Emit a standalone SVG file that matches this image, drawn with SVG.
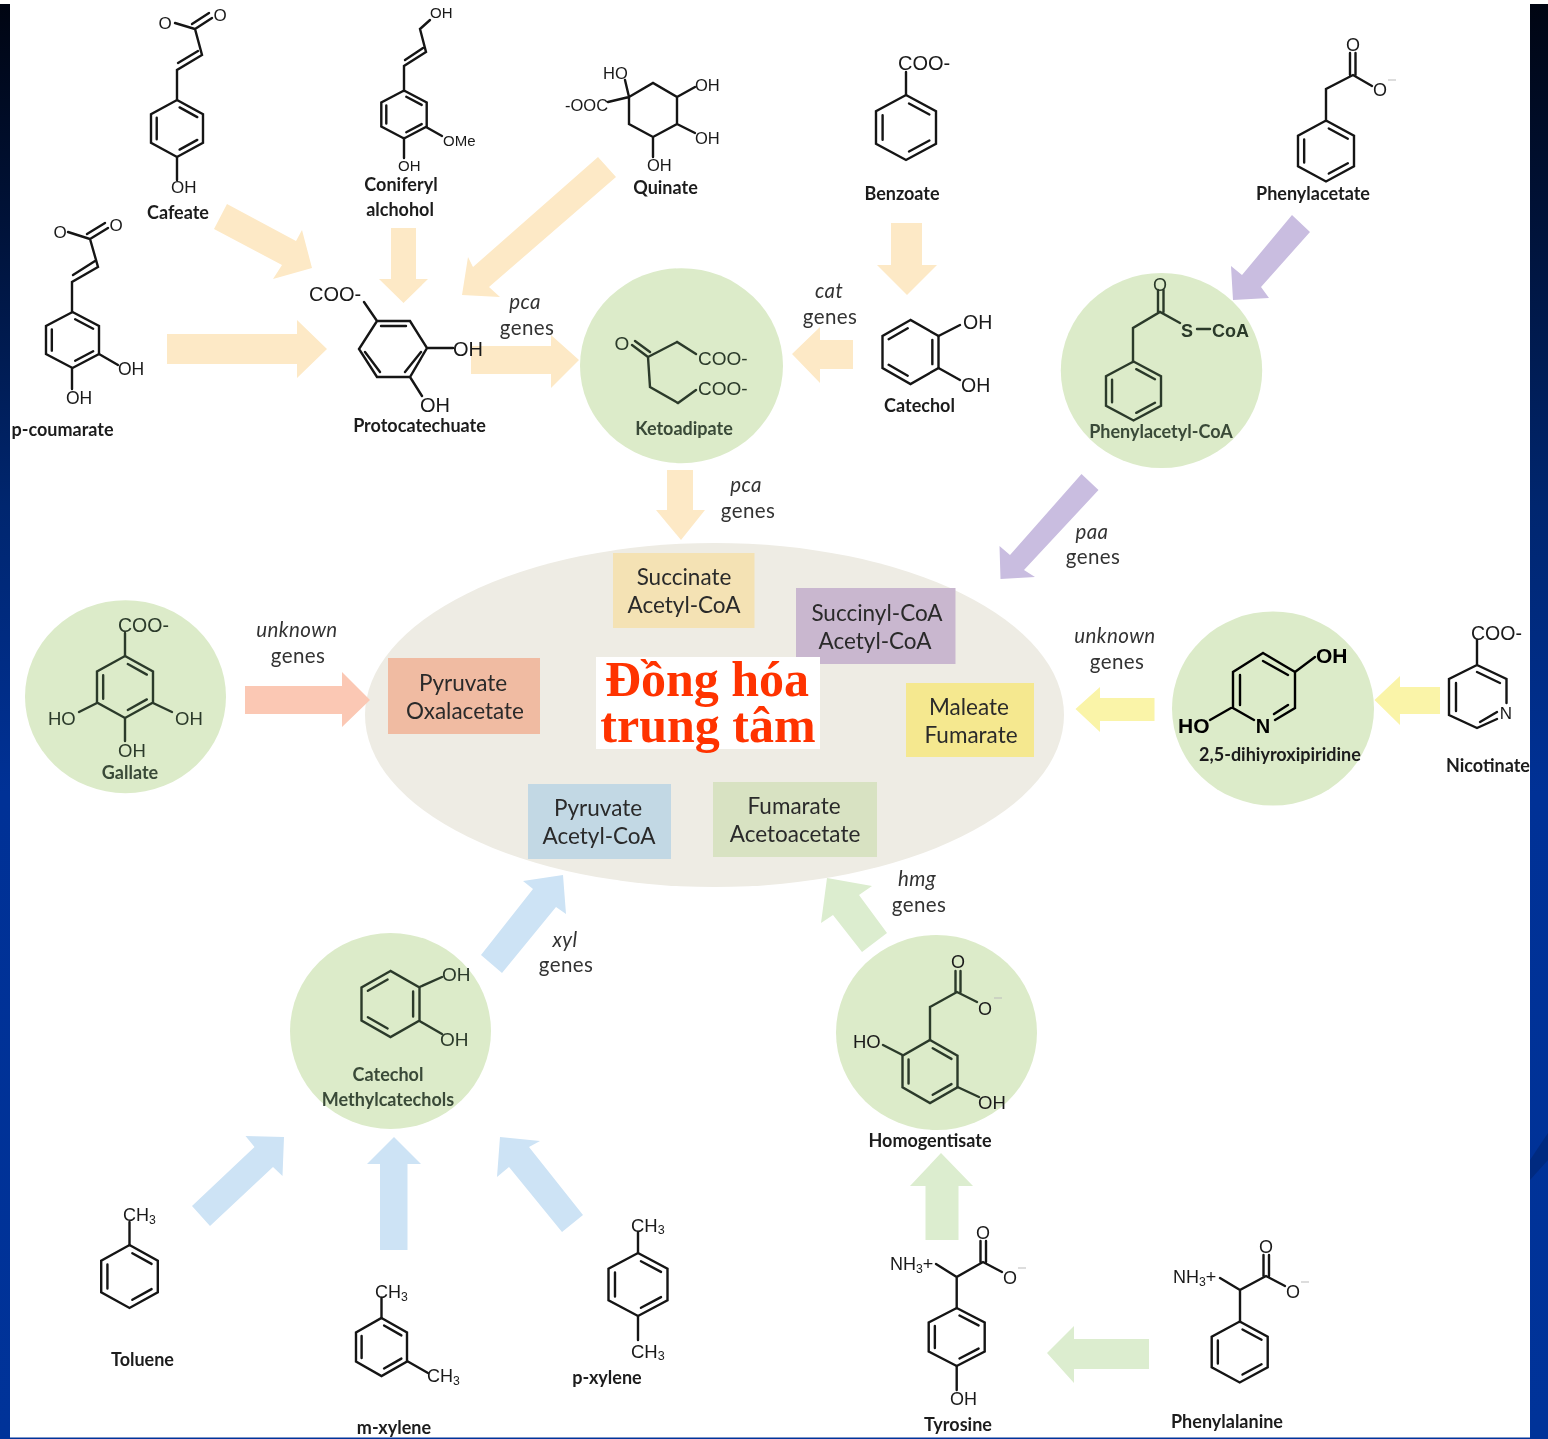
<svg xmlns="http://www.w3.org/2000/svg" width="1548" height="1439" viewBox="0 0 1548 1439">
<style>
.b{fill:none;stroke:#151515;stroke-width:2.400;stroke-linecap:round;stroke-linejoin:miter}
.dk .b{stroke:#2b3a2a}
text{dominant-baseline:central}
.c{font-family:"Liberation Sans",Arial,sans-serif;fill:#1a1a1a}
.dk .c{fill:#2b3a2a}
.n{font-family:Lato,"Open Sans",sans-serif;font-weight:700;font-size:18px;text-anchor:middle;fill:#1c1c1c;transform:translateY(-1.5px)}
.dk .n{fill:#3a4a38}
.l{font-family:Lato,"Open Sans",sans-serif;font-size:20.500px;text-anchor:middle;fill:#333;letter-spacing:.4px;transform:translateY(-2px)}
.i{font-style:italic}
.bx{font-family:Lato,"Open Sans",sans-serif;font-size:22.500px;text-anchor:middle;fill:#2a2a2a;transform:translateY(-2px)}
.t{font-family:"Liberation Serif","Times New Roman",serif;font-weight:700;font-size:50px;text-anchor:middle;fill:#ff3300;transform:translateY(-2px)}
.s{font-size:.68em}
.cir{fill:#dcebc9}
.cream{fill:#fde9c6}.purple{fill:#c9bde0}.red{fill:#fbc8b4}.yellow{fill:#faf4a8}.blue{fill:#cde3f5}.green{fill:#dcedcf}
</style>
<defs>
<linearGradient id="bar" x1="0" y1="0" x2="0" y2="1">
<stop offset="0" stop-color="#000512"/><stop offset=".15" stop-color="#001238"/><stop offset=".35" stop-color="#00266f"/><stop offset=".55" stop-color="#003196"/><stop offset="1" stop-color="#003399"/>
</linearGradient>
<path id="benz" d="M0-1L1-.5V.5L0 1L-1 .5V-.5ZM.1-.74L.78-.4M.1 .74L.78 .4M-.78-.38V.38" fill="none" vector-effect="non-scaling-stroke"/>
<filter id="soft" filterUnits="userSpaceOnUse" x="0" y="0" width="1548" height="1439" color-interpolation-filters="sRGB"><feGaussianBlur stdDeviation="0.5"/></filter>
</defs>

<g id="background">
<rect width="1548" height="1439" fill="#fff"/>
<rect x="0" y="4" width="10" height="1435" fill="url(#bar)"/>
<rect x="1530" y="4" width="18" height="1435" fill="url(#bar)"/>
<path d="M1530 1160L1548 1133V1160L1530 1180Z" fill="#002a80"/>
<rect x="0" y="1437.500" width="1548" height="1.500" fill="#003399"/>
</g>

<g id="diagram" filter="url(#soft)">
<g id="central">
<ellipse cx="714.500" cy="715" rx="349.500" ry="172" fill="#eeece4"/>
<g id="box-succinate"><rect x="613" y="553" width="141.500" height="75" fill="#f4e2b4"/><text class="bx" x="684" y="578">Succinate</text><text class="bx" x="684" y="606">Acetyl-CoA</text></g>
<g id="box-succinyl"><rect x="796" y="588" width="159.500" height="76" fill="#c9b7cf"/><text class="bx" x="877" y="614">Succinyl-CoA</text><text class="bx" x="875" y="642">Acetyl-CoA</text></g>
<g id="box-oxalacetate"><rect x="388" y="658" width="152" height="76" fill="#f0bba2"/><text class="bx" x="463" y="684">Pyruvate</text><text class="bx" x="465" y="712">Oxalacetate</text></g>
<g id="box-maleate"><rect x="906" y="683" width="128" height="74" fill="#f5e88f"/><text class="bx" x="969" y="708">Maleate</text><text class="bx" x="971" y="736">Fumarate</text></g>
<g id="box-pyruvate"><rect x="528" y="784" width="143" height="75" fill="#c2d8e4"/><text class="bx" x="598" y="809">Pyruvate</text><text class="bx" x="599" y="837">Acetyl-CoA</text></g>
<g id="box-fumarate"><rect x="713" y="782" width="164" height="75" fill="#d8e2c2"/><text class="bx" x="794" y="807">Fumarate</text><text class="bx" x="795" y="835">Acetoacetate</text></g>
<g id="title"><rect x="596" y="657" width="224" height="92" fill="#fff"/><text class="t" x="707" y="681">Đồng hóa</text><text class="t" x="708" y="727">trung tâm</text></g>
</g>

<g id="connectors">
<polygon class="cream" points="227,204 296,241 302,230 312,268 273,279 282,265 214,229"/>
<polygon class="cream" points="391,228 416,228 416,279 428,279 403.500,303 379,279 391,279"/>
<polygon class="cream" points="598,157 616,177 489,287 500,297 462,295 468,257 473,267"/>
<polygon class="cream" points="167,334 297,334 297,320 327,349 297,378 297,364 167,364"/>
<polygon class="cream" points="471,346 551,346 551,335 579,360 551,388 551,374 471,374"/>
<polygon class="cream" points="853,340 820,340 820,327 792,354 820,383 820,369 853,369"/>
<polygon class="cream" points="891,223 922,223 922,265 937,265 907,295 877,265 891,265"/>
<polygon class="cream" points="667,470 693,470 693,510 705,510 681,540 656,510 667,510"/>
<polygon class="purple" points="1292,215 1310,232 1261,287 1269,298 1233,300 1231,266 1242,275"/>
<polygon class="purple" points="1081.500,474 1098.500,490 1024,570 1035,577 1000.500,579 999.500,546 1010,555"/>
<polygon class="red" points="245,686 342,686 342,672 370,700 342,727 342,714 245,714"/>
<polygon class="yellow" points="1154.500,698 1100,698 1100,687 1075.500,709 1100,732 1100,721 1154.500,721"/>
<polygon class="yellow" points="1440,687 1400,687 1400,676 1374.500,700 1400,725 1400,714 1440,714"/>
<polygon class="blue" points="481,955 533,889 523,881 563,875 566,914 556,907 502,973"/>
<polygon class="blue" points="192,1206 254.500,1147 245.500,1136 284,1137 282.500,1176 273,1167 210,1226"/>
<polygon class="blue" points="380,1250 380,1164 367,1164 394,1137 421,1164 407.500,1164 407.500,1250"/>
<polygon class="blue" points="583,1215 529,1147 540,1141 500,1137 497,1177 509,1167 562,1232"/>
<polygon class="green" points="887,933 859,895 872,886 827,878 821,923 833,915 862,952"/>
<polygon class="green" points="925.500,1240 925.500,1186 910,1186 941,1153 973,1186 958.500,1186 958.500,1240"/>
<polygon class="green" points="1149,1339 1074,1339 1074,1326 1047,1353 1074,1383 1074,1369 1149,1369"/>
<text class="l i" x="525" y="303">pca</text><text class="l" x="527" y="329">genes</text>
<text class="l i" x="746" y="486">pca</text><text class="l" x="748" y="512">genes</text>
<text class="l i" x="829" y="292">cat</text><text class="l" x="830" y="318">genes</text>
<text class="l i" x="1092" y="533">paa</text><text class="l" x="1093" y="558">genes</text>
<text class="l i" x="297" y="631">unknown</text><text class="l" x="298" y="657">genes</text>
<text class="l i" x="1115" y="637">unknown</text><text class="l" x="1117" y="663">genes</text>
<text class="l i" x="565" y="941">xyl</text><text class="l" x="566" y="966">genes</text>
<text class="l i" x="917" y="880">hmg</text><text class="l" x="919" y="906">genes</text>
</g>

<g id="cafeate">
<use href="#benz" class="b" transform="translate(177 128.500) scale(26 28.500)"/>
<path class="b" d="M177 100V70L202 55L195 29L175 23M178 63L198 51M195 29L212 18M192 24L209 13M177 157V180"/>
<text class="c" font-size="17" x="165" y="23" text-anchor="middle">O</text><text class="c" font-size="17" x="220" y="15" text-anchor="middle">O</text>
<text class="c" font-size="17" x="171" y="187">OH</text>
<text class="n" x="178" y="213">Cafeate</text>
</g>

<g id="coniferyl">
<use href="#benz" class="b" transform="translate(404 114.500) scale(22.700 24)"/>
<path class="b" d="M404 91V66L426 52L420 29L430 20M405 60L423 48M426 127L442 136M404 138V158"/>
<text class="c" font-size="15" x="430" y="12">OH</text>
<text class="c" font-size="15" x="443" y="140">OMe</text>
<text class="c" font-size="15" x="398" y="165">OH</text>
<text class="n" x="401" y="185">Coniferyl</text><text class="n" x="400" y="210">alchohol</text>
</g>

<g id="p-coumarate">
<use href="#benz" class="b" transform="translate(72.500 340) scale(26.500 28)"/>
<path class="b" d="M72 312V282L98 267L90 239L68 232M73 275L95 261M90 239L108 228M87 234L105 223M99 354L118 365M72 368V389"/>
<text class="c" font-size="17" x="60" y="232" text-anchor="middle">O</text><text class="c" font-size="17" x="116" y="225" text-anchor="middle">O</text>
<text class="c" font-size="17.500" x="118" y="369">OH</text>
<text class="c" font-size="17.500" x="66" y="398">OH</text>
<text class="n" x="62.500" y="430">p-coumarate</text>
</g>

<g id="protocatechuate">
<path class="b" d="M377 321H410L427 348L410 377H377L359 349ZM381 326H406M365 352L380 372M405 372L421 352M377 321L364 302M427 348H453M410 377L422 396"/>
<text class="c" font-size="20" x="309" y="294">COO-</text>
<text class="c" font-size="20" x="453" y="349">OH</text>
<text class="c" font-size="20" x="420" y="405">OH</text>
<text class="n" x="419.500" y="426">Protocatechuate</text>
</g>

<g id="quinate">
<path class="b" d="M629 97L653 83L677 97V124L653 137L629 124ZM629 97L625 80M629 97L608 102M677 97L695 87M677 124L695 133M653 137V157"/>
<text class="c" font-size="16.500" x="603" y="73">HO</text>
<text class="c" font-size="16.500" x="565" y="105">-OOC</text>
<text class="c" font-size="16.500" x="695" y="85">OH</text>
<text class="c" font-size="16.500" x="695" y="138">OH</text>
<text class="c" font-size="16.500" x="647" y="165">OH</text>
<text class="n" x="665.500" y="188">Quinate</text>
</g>

<g id="benzoate">
<use href="#benz" class="b" transform="translate(906 127.500) scale(30 32.500)"/>
<path class="b" d="M906 95V72"/>
<text class="c" font-size="20" x="898" y="63">COO-</text>
<text class="n" x="902" y="194">Benzoate</text>
</g>

<g id="catechol">
<use href="#benz" class="b" transform="translate(910.500 352) scale(-28 32)"/>
<path class="b" d="M938.500 336L960 325M938.500 368L960 380"/>
<text class="c" font-size="19.500" x="963" y="322">OH</text>
<text class="c" font-size="19.500" x="961" y="385">OH</text>
<text class="n" x="919.500" y="406">Catechol</text>
</g>

<g id="phenylacetate">
<use href="#benz" class="b" transform="translate(1326 151) scale(28 30.500)"/>
<path class="b" d="M1326 121V89L1353 75L1372 86M1350 75V53M1355.500 75V53"/>
<text class="c" font-size="18" x="1353" y="45" text-anchor="middle">O</text>
<text class="c" font-size="18" x="1380" y="90" text-anchor="middle">O</text>
<path d="M1388 80H1396" stroke="#bbb" stroke-width="1"/>
<text class="n" x="1313" y="194">Phenylacetate</text>
</g>

<g id="ketoadipate" class="dk">
<ellipse class="cir" cx="681.500" cy="365.700" rx="101.500" ry="97.500"/>
<path class="b" d="M632 345L648 357M635 341L650 352M648 357L677 342L696 354M648 357L650 387L678 403L696 390"/>
<text class="c" font-size="19" x="622" y="343" text-anchor="middle">O</text>
<text class="c" font-size="19" x="698" y="358">COO-</text>
<text class="c" font-size="19" x="698" y="388">COO-</text>
<text class="n" x="684" y="429">Ketoadipate</text>
</g>

<g id="phenylacetyl-coa" class="dk">
<ellipse class="cir" cx="1161.500" cy="370.500" rx="100.700" ry="97.500"/>
<use href="#benz" class="b" transform="translate(1133.500 391) scale(27.500 29.500)"/>
<path class="b" d="M1133 362V328L1160 312L1180 323M1158 312V290M1163.500 312V290M1197 329H1210"/>
<text class="c" font-size="18" x="1160" y="285" text-anchor="middle">O</text>
<text class="c" font-size="18" font-weight="700" x="1187" y="331" text-anchor="middle">S</text>
<text class="c" font-size="18" font-weight="700" x="1212" y="331">CoA</text>
<text class="n" x="1161" y="432">Phenylacetyl-CoA</text>
</g>

<g id="gallate" class="dk">
<ellipse class="cir" cx="125.500" cy="696.700" rx="100.500" ry="96.500"/>
<use href="#benz" class="b" transform="translate(125 687) scale(28 31)"/>
<path class="b" d="M125 656V633M97 703L79 712M153 703L172 712M125 718V741"/>
<text class="c" font-size="19.500" x="118" y="625">COO-</text>
<text class="c" font-size="18.500" x="48" y="718">HO</text>
<text class="c" font-size="18.500" x="175" y="718">OH</text>
<text class="c" font-size="18.500" x="118" y="750">OH</text>
<text class="n" x="130" y="773">Gallate</text>
</g>

<g id="dihydroxypyridine">
<ellipse class="cir" cx="1273" cy="708.500" rx="101" ry="97"/>
<path class="b" d="M1263 653L1295 672V708L1275 720M1263 653L1233 672V708L1254 720M1263 661L1288 675M1240 675V705M1288 705L1274 714M1295 672L1315 657M1231 708L1210 720" style="stroke:#000"/>
<text class="c" font-size="21" font-weight="700" x="1316" y="655" style="fill:#000">OH</text>
<text class="c" font-size="21" font-weight="700" x="1178" y="725" style="fill:#000">HO</text>
<text class="c" font-size="20" font-weight="700" x="1263" y="726" text-anchor="middle" style="fill:#000">N</text>
<text class="n" x="1280" y="755">2,5-dihiyroxipiridine</text>
</g>

<g id="nicotinate">
<path class="b" d="M1477 665L1506.500 679V703M1497 719L1477 728L1449 715V679L1477 665M1477 672L1500 683M1480 722L1497 712M1456 683V711M1477 665V640"/>
<text class="c" font-size="19.500" x="1471" y="633">COO-</text>
<text class="c" font-size="17" x="1506" y="713" text-anchor="middle">N</text>
<text class="n" x="1488" y="766">Nicotinate</text>
</g>

<g id="catechol-methylcatechols" class="dk">
<ellipse class="cir" cx="390.500" cy="1031" rx="100.500" ry="98"/>
<use href="#benz" class="b" transform="translate(390.500 1004) scale(-29 33)"/>
<path class="b" d="M419.500 987L442 977M419.500 1021L442 1034"/>
<text class="c" font-size="19" x="442" y="974">OH</text>
<text class="c" font-size="19" x="440" y="1039">OH</text>
<text class="n" x="388" y="1075">Catechol</text><text class="n" x="388" y="1100">Methylcatechols</text>
</g>

<g id="homogentisate">
<ellipse class="cir" cx="936.500" cy="1032.500" rx="100.500" ry="97.500"/>
<use href="#benz" class="b" transform="translate(930 1071.500) scale(27.500 31.500)" style="stroke:#2b3a2a"/>
<path class="b" d="M930 1040V1007L957 992L977 1002M955.500 992V971M960.500 992V971M902.500 1055L883 1045M957.500 1087L979 1097" style="stroke:#2b3a2a"/>
<text class="c" font-size="18" x="958" y="962" text-anchor="middle">O</text>
<text class="c" font-size="18" x="985" y="1009" text-anchor="middle">O</text>
<path d="M994 998H1002" stroke="#bbb" stroke-width="1"/>
<text class="c" font-size="18.500" x="853" y="1041">HO</text>
<text class="c" font-size="18.500" x="978" y="1102">OH</text>
<text class="n" x="930" y="1141">Homogentisate</text>
</g>

<g id="toluene">
<use href="#benz" class="b" transform="translate(129.500 1276.500) scale(28.300 31.500)"/>
<path class="b" d="M129.500 1245V1222"/>
<text class="c" font-size="18" x="123" y="1215">CH<tspan class="s" dy="5">3</tspan></text>
<text class="n" x="142.500" y="1360">Toluene</text>
</g>

<g id="m-xylene">
<use href="#benz" class="b" transform="translate(381.500 1347) scale(25.500 29)"/>
<path class="b" d="M381.500 1318V1298M407 1361L428 1373"/>
<text class="c" font-size="18" x="375" y="1292">CH<tspan class="s" dy="5">3</tspan></text>
<text class="c" font-size="18" x="427" y="1376">CH<tspan class="s" dy="5">3</tspan></text>
<text class="n" x="394" y="1428">m-xylene</text>
</g>

<g id="p-xylene">
<use href="#benz" class="b" transform="translate(638 1284.500) scale(29.500 31.500)"/>
<path class="b" d="M638 1253V1232M638 1316V1340"/>
<text class="c" font-size="18.500" x="631" y="1225">CH<tspan class="s" dy="5">3</tspan></text>
<text class="c" font-size="18.500" x="631" y="1351">CH<tspan class="s" dy="5">3</tspan></text>
<text class="n" x="607" y="1378">p-xylene</text>
</g>

<g id="tyrosine">
<use href="#benz" class="b" transform="translate(956.700 1337) scale(28 29)"/>
<path class="b" d="M956.700 1308V1277L983 1262L1002 1272M980.500 1262V1241M986 1262V1241M956.700 1277L936 1264M956.700 1366V1390"/>
<text class="c" font-size="18" x="983" y="1233" text-anchor="middle">O</text>
<text class="c" font-size="18" x="1010" y="1278" text-anchor="middle">O</text>
<path d="M1018 1268H1026" stroke="#bbb" stroke-width="1"/>
<text class="c" font-size="18" x="890" y="1264">NH<tspan class="s" dy="5">3</tspan><tspan dy="-5">+</tspan></text>
<text class="c" font-size="18" x="950" y="1399">OH</text>
<text class="n" x="958" y="1425">Tyrosine</text>
</g>

<g id="phenylalanine">
<use href="#benz" class="b" transform="translate(1239.700 1352) scale(28 30.500)"/>
<path class="b" d="M1240 1322V1290L1266 1276L1285 1286M1263.500 1276V1255M1269 1276V1255M1240 1290L1220 1278"/>
<text class="c" font-size="18" x="1266" y="1247" text-anchor="middle">O</text>
<text class="c" font-size="18" x="1293" y="1292" text-anchor="middle">O</text>
<path d="M1301 1282H1309" stroke="#bbb" stroke-width="1"/>
<text class="c" font-size="18" x="1173" y="1277">NH<tspan class="s" dy="5">3</tspan><tspan dy="-5">+</tspan></text>
<text class="n" x="1227" y="1422">Phenylalanine</text>
</g>
</g>
</svg>
